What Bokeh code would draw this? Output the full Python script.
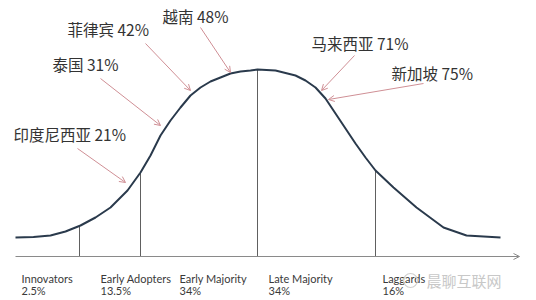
from bokeh.plotting import figure
from bokeh.models import ColumnDataSource, Range1d, Arrow, OpenHead
from bokeh.core.properties import value
from bokeh.embed import file_html
from bokeh.resources import INLINE

# Adoption curve (x along adoption axis, height above baseline)
curve_x = [15, 33, 50, 65, 80, 95, 110, 127, 140, 150, 160, 170, 180, 190, 200, 210,
           220, 230, 240, 250, 257, 275, 295, 305, 315, 325, 335, 345, 355, 365, 375,
           393, 416, 443, 466, 500]
curve_h = [19, 19.5, 21, 25, 31, 39, 49, 66, 84, 101, 121, 136, 149, 161, 169, 175,
           179, 183, 185, 186, 187, 186, 181, 176, 169, 158, 143, 128, 113, 99, 86,
           69, 49, 29, 21, 19]

# Segment dividers
divider_x = [79, 140, 257, 375]
divider_h = [30, 84, 187, 86]

# Adopter categories
stages = ["Innovators", "Early Adopters", "Early Majority", "Late Majority", "Laggards"]
shares = ["2.5%", "13.5%", "34%", "34%", "16%"]
stage_x = [21, 100, 179, 268, 382]

# Countries
countries = ["印度尼西亚", "泰国", "菲律宾", "越南", "马来西亚", "新加坡"]
country_pct = [21, 31, 42, 48, 71, 75]
country_label_x = [13, 52, 67, 162, 311, 391]
country_label_h = [123, 193, 228, 241, 214, 184]
arrow_x0 = [77, 100, 145, 200, 354, 423]
arrow_h0 = [108, 178, 213, 229, 201, 173]
arrow_x1 = [125, 160, 190, 230, 321, 328]
arrow_h1 = [74, 131, 166, 184, 166, 157]

p = figure(width=536, height=300, output_backend="svg", toolbar_location=None,
           x_axis_location=None, y_axis_location=None,
           x_range=Range1d(0, 536), y_range=Range1d(-44, 256),
           min_border=0, background_fill_color="white", border_fill_color="white")
p.grid.visible = False
p.outline_line_color = None

# baseline axis with arrow
p.add_layout(Arrow(x_start=15, y_start=0, x_end=519, y_end=0,
                   line_color="#8a8a8a", line_width=1,
                   end=OpenHead(size=6, line_color="#8a8a8a", line_width=1)))

# dividers
p.segment(x0=divider_x, y0=[0] * len(divider_x), x1=divider_x, y1=divider_h,
          line_color="#606060", line_width=1)

# curve
p.line(curve_x, curve_h, line_color="#2a3a4c", line_width=2, line_join="round")

# bottom labels
p.text(x=stage_x, y=[-22] * 5, text=stages, text_font=value("Lato"),
       text_font_size="11px", text_color="#3a3a3a", text_baseline="middle")
p.text(x=stage_x, y=[-34] * 5, text=shares, text_font=value("Lato"),
       text_font_size="11px", text_color="#3a3a3a", text_baseline="middle")

# country arrows
asrc = ColumnDataSource(dict(x0=arrow_x0, y0=arrow_h0, x1=arrow_x1, y1=arrow_h1))
p.add_layout(Arrow(x_start="x0", y_start="y0", x_end="x1", y_end="y1", source=asrc,
                   line_color="#cf8f95", line_width=1,
                   end=OpenHead(size=6, line_color="#cf8f95", line_width=1)))

# country labels
labels = [f"{c} {v}%" for c, v in zip(countries, country_pct)]
p.text(x=country_label_x, y=country_label_h, text=labels,
       text_font=value("Noto Sans CJK SC"), text_font_size="15.5px",
       text_color="#333333", text_baseline="middle")

# watermark
p.scatter(x=[410], y=[-24], size=14, marker="circle", fill_color=None,
          line_color="#d0d0d0", line_width=1.2)
p.text(x=[426], y=[-24], text=["晨聊互联网"], text_font=value("Noto Sans CJK SC"),
       text_font_size="15px", text_color="#c8c8c8", text_baseline="middle")

open("out.html", "w").write(file_html(p, INLINE))
